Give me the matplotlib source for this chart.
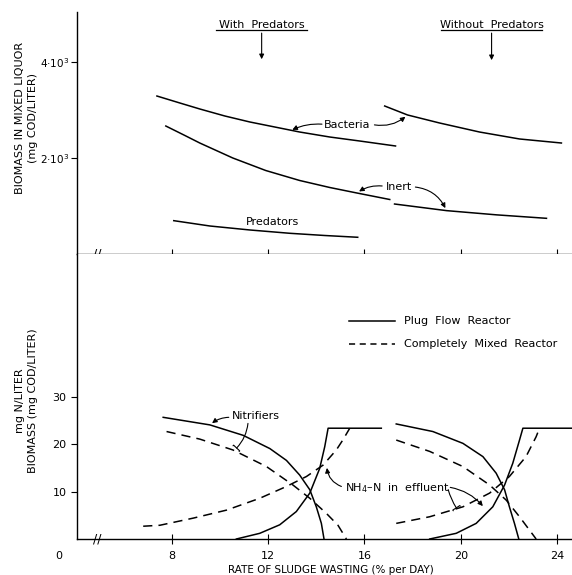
import matplotlib
matplotlib.use("Agg")
import matplotlib.pyplot as plt

plt.rcParams['font.family'] = ['DejaVu Sans']

# --- upper panel: biomass in mixed liquor (mg COD/liter) ---
bact_pred_x = [7.38, 8.33, 9.16, 10.2, 11.24, 12.27, 13.31, 14.56, 15.8, 17.29]
bact_pred_y = [3291, 3146, 3021, 2875, 2750, 2646, 2541, 2437, 2354, 2250]
bact_nopred_x = [16.84, 17.79, 19.12, 20.78, 22.44, 24.18]
bact_nopred_y = [3083, 2896, 2729, 2541, 2396, 2312]
inert_pred_x = [7.75, 8.54, 9.16, 10.53, 11.9, 13.31, 14.56, 15.68, 17.05]
inert_pred_y = [2666, 2469, 2312, 2000, 1739, 1531, 1385, 1271, 1135]
inert_nopred_x = [17.25, 19.41, 21.49, 23.56]
inert_nopred_y = [1041, 903, 815, 743]
pred_x = [8.08, 9.58, 11.24, 12.9, 14.35, 15.72]
pred_y = [694, 583, 500, 431, 385, 348]

# --- lower panel: nitrifiers and NH4-N (mg/liter) ---
nit_pfr1_x = [7.64, 9.58, 10.96, 12.07, 12.76, 13.31, 13.73, 14.0, 14.21, 14.32]
nit_pfr1_y = [25.7, 24.1, 21.9, 19.1, 16.6, 13.5, 10.4, 6.8, 3.3, 0.0]
nit_cmr1_x = [7.78, 9.16, 10.54, 11.93, 13.03, 13.73, 14.42, 14.9, 15.25]
nit_cmr1_y = [22.7, 21.1, 18.8, 15.3, 11.4, 8.6, 5.4, 2.9, 0.0]
nh4_pfr1_x = [10.68, 11.65, 12.48, 13.17, 13.73, 14.14, 14.35, 14.49, 16.7]
nh4_pfr1_y = [0.0, 1.2, 3.0, 5.8, 9.7, 14.9, 19.5, 23.4, 23.4]
nh4_cmr1_x = [6.81, 7.5, 8.88, 10.27, 11.65, 12.76, 13.59, 14.28, 14.83, 15.1, 15.39]
nh4_cmr1_y = [2.7, 2.9, 4.4, 6.1, 8.6, 11.1, 13.2, 15.6, 18.8, 20.9, 23.4]

nit_pfr2_x = [17.32, 18.84, 20.09, 20.92, 21.47, 21.82, 22.02, 22.23, 22.41]
nit_pfr2_y = [24.3, 22.7, 20.2, 17.4, 13.9, 10.4, 6.8, 3.3, 0.0]
nit_cmr2_x = [17.32, 18.71, 20.09, 21.2, 21.89, 22.44, 23.13]
nit_cmr2_y = [20.9, 18.5, 15.3, 11.4, 8.2, 4.7, 0.0]
nh4_pfr2_x = [18.71, 19.81, 20.64, 21.33, 21.82, 22.16, 22.44, 22.58, 24.62]
nh4_pfr2_y = [0.0, 1.2, 3.3, 6.8, 11.4, 16.0, 20.9, 23.4, 23.4]
nh4_cmr2_x = [17.32, 18.71, 20.09, 21.2, 22.02, 22.71, 23.13, 23.27]
nh4_cmr2_y = [3.3, 4.7, 6.8, 9.7, 13.2, 17.4, 21.6, 23.4]

xticks = [8, 12, 16, 20, 24]
top_yticks = [2000, 4000]
top_ylabels = ['2·10$^3$', '4·10$^3$']
bot_yticks = [10, 20, 30]

XMIN, XMAX = 4.06, 24.62
lw = 1.1
dash = (6, 4)
fs = 8

fig = plt.figure(figsize=(5.72, 5.75), dpi=100)
ax1 = fig.add_axes([0.1346, 0.5583, 0.8654, 0.4207])
ax2 = fig.add_axes([0.1346, 0.0626, 0.8654, 0.4957])

for ax in (ax1, ax2):
    ax.set_xlim(XMIN, XMAX)
    ax.spines['top'].set_visible(False)
    ax.spines['right'].set_visible(False)
    ax.spines['left'].set_linewidth(1.0)
    ax.spines['bottom'].set_linewidth(1.0)
    ax.set_xticks(xticks)
    ax.tick_params(axis='x', direction='inout', length=7, width=0.8)
    ax.tick_params(axis='y', direction='out', length=4, width=0.8, labelsize=fs)
    ax.text(4.89, 0, '//', ha='center', va='center', fontsize=9)

# upper panel
ax1.set_ylim(0, 5040)
ax1.set_yticks(top_yticks)
ax1.set_yticklabels(top_ylabels)
ax1.tick_params(axis='y', pad=1.5, labelsize=7.5)
ax1.tick_params(axis='x', labelbottom=False)
k = dict(color='black', lw=lw)
ax1.plot(bact_pred_x, bact_pred_y, **k)
ax1.plot(bact_nopred_x, bact_nopred_y, **k)
ax1.plot(inert_pred_x, inert_pred_y, **k)
ax1.plot(inert_nopred_x, inert_nopred_y, **k)
ax1.plot(pred_x, pred_y, **k)

arr = dict(arrowstyle='-|>', color='black', lw=0.8, mutation_scale=7)
ax1.text(11.73, 4771, 'With  Predators', ha='center', va='center', fontsize=fs)
ax1.plot([9.83, 13.6], [4660, 4660], color='black', lw=0.9)
ax1.annotate('', xy=(11.73, 4000), xytext=(11.73, 4660), arrowprops=arr)
ax1.text(21.28, 4771, 'Without  Predators', ha='center', va='center', fontsize=fs)
ax1.plot([19.16, 23.39], [4660, 4660], color='black', lw=0.9)
ax1.annotate('', xy=(21.28, 3980), xytext=(21.28, 4660), arrowprops=arr)

ax1.text(15.3, 2688, 'Bacteria', ha='center', va='center', fontsize=fs)
ax1.annotate('', xy=(12.9, 2562), xytext=(14.35, 2700),
             arrowprops=dict(arr, connectionstyle='arc3,rad=0.15'))
ax1.annotate('', xy=(17.79, 2896), xytext=(16.3, 2700),
             arrowprops=dict(arr, connectionstyle='arc3,rad=0.25'))
ax1.text(17.42, 1396, 'Inert', ha='center', va='center', fontsize=fs)
ax1.annotate('', xy=(15.68, 1271), xytext=(16.85, 1410),
             arrowprops=dict(arr, connectionstyle='arc3,rad=0.2'))
ax1.annotate('', xy=(19.41, 903), xytext=(18.0, 1400),
             arrowprops=dict(arr, connectionstyle='arc3,rad=-0.3'))
ax1.text(12.19, 667, 'Predators', ha='center', va='center', fontsize=fs)

# lower panel
ax2.set_ylim(0, 60.2)
ax2.set_yticks(bot_yticks)
ax2.tick_params(axis='x', labelsize=fs, pad=5)
d = dict(color='black', lw=lw, ls=(0, dash))
ax2.plot(nit_pfr1_x, nit_pfr1_y, **k)
ax2.plot(nit_cmr1_x, nit_cmr1_y, **d)
ax2.plot(nh4_pfr1_x, nh4_pfr1_y, **k)
ax2.plot(nh4_cmr1_x, nh4_cmr1_y, **d)
ax2.plot(nit_pfr2_x, nit_pfr2_y, **k)
ax2.plot(nit_cmr2_x, nit_cmr2_y, **d)
ax2.plot(nh4_pfr2_x, nh4_pfr2_y, **k)
ax2.plot(nh4_cmr2_x, nh4_cmr2_y, **d)

# legend drawn by hand like the figure
ax2.plot([15.34, 17.25], [46.1, 46.1], **k)
ax2.text(17.63, 46.1, 'Plug  Flow  Reactor', va='center', fontsize=fs)
ax2.plot([15.34, 17.25], [41.2, 41.2], color='black', lw=lw, ls=(0, (4, 3)))
ax2.text(17.63, 41.2, 'Completely  Mixed  Reactor', va='center', fontsize=fs)

ax2.text(10.48, 25.9, 'Nitrifiers', va='center', fontsize=fs)
ax2.annotate('', xy=(9.58, 24.1), xytext=(10.48, 25.7),
             arrowprops=dict(arr, connectionstyle='arc3,rad=0.2'))
ax2.annotate('', xy=(10.61, 18.8), xytext=(11.17, 25.0),
             arrowprops=dict(arrowstyle='-[', color='black', lw=0.8,
                             mutation_scale=3, connectionstyle='arc3,rad=-0.2'))
ax2.text(15.18, 10.8, 'NH$_4$–N  in  effluent', va='center', fontsize=fs)
ax2.annotate('', xy=(14.43, 15.6), xytext=(15.15, 10.9),
             arrowprops=dict(arr, connectionstyle='arc3,rad=-0.35'))
ax2.annotate('', xy=(19.88, 6.1), xytext=(19.45, 11.0),
             arrowprops=dict(arrowstyle='-[', color='black', lw=0.8,
                             mutation_scale=3, connectionstyle='arc3,rad=0.1'))
ax2.annotate('', xy=(20.99, 6.5), xytext=(19.45, 11.0),
             arrowprops=dict(arr, connectionstyle='arc3,rad=-0.2'))

ax2.text(3.31, -0.06, '0', ha='center', va='center', fontsize=fs,
         transform=ax2.get_xaxis_transform(), clip_on=False)

fig.text(0.579, 0.009, 'RATE OF SLUDGE WASTING (% per DAY)', ha='center',
         va='center', fontsize=7.5)
fig.text(20 / 572, 0.795, 'BIOMASS IN MIXED LIQUOR', rotation=90, ha='center',
         va='center', fontsize=fs)
fig.text(33 / 572, 0.795, '(mg COD/LITER)', rotation=90, ha='center',
         va='center', fontsize=fs)
fig.text(20 / 572, 0.304, 'mg N/LITER', rotation=90, ha='center',
         va='center', fontsize=fs)
fig.text(33 / 572, 0.304, 'BIOMASS (mg COD/LITER)', rotation=90, ha='center',
         va='center', fontsize=fs)

fig.savefig('out.png', dpi=100)
